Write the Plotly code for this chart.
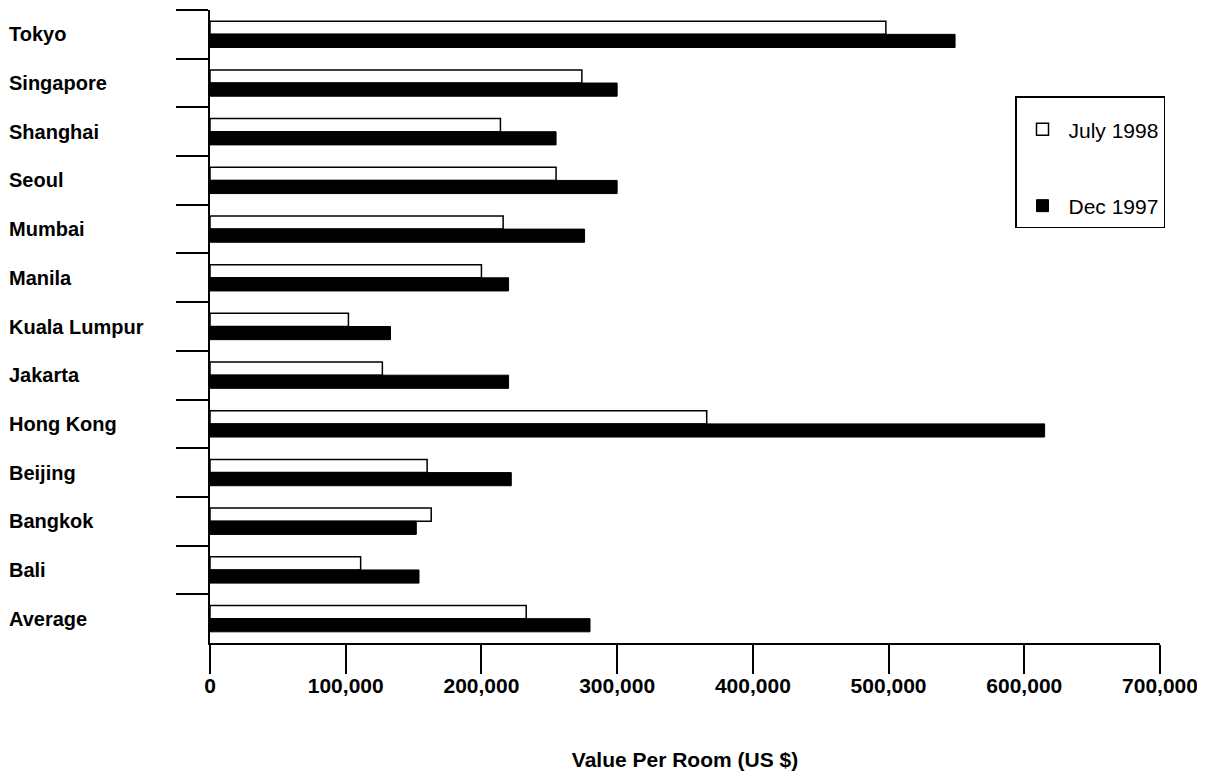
import plotly.graph_objects as go

cities = ["Tokyo", "Singapore", "Shanghai", "Seoul", "Mumbai", "Manila",
          "Kuala Lumpur", "Jakarta", "Hong Kong", "Beijing", "Bangkok",
          "Bali", "Average"]
july_1998 = [498000, 274000, 214000, 255000, 216000, 200000,
             102000, 127000, 366000, 160000, 163000, 111000, 233000]
dec_1997 = [549000, 300000, 255000, 300000, 276000, 220000,
            133000, 220000, 615000, 222000, 152000, 154000, 280000]
x_ticks = [0, 100000, 200000, 300000, 400000, 500000, 600000, 700000]
x_title = "Value Per Room (US $)"

BOLD = "Liberation Sans, Arial, Helvetica, sans-serif"
REG = "Liberation Sans, Arial, Helvetica, sans-serif"

fig = go.Figure()
fig.add_trace(go.Bar(
    y=cities, x=july_1998, orientation="h", name="July 1998",
    marker=dict(color="white", line=dict(color="black", width=1.5)),
    legendgroup="a",
))
fig.add_trace(go.Bar(
    y=cities, x=dec_1997, orientation="h", name="Dec 1997",
    marker=dict(color="black", line=dict(color="black", width=1)),
    legendgroup="b",
))

for c in cities:
    fig.add_annotation(
        x=-203 / 950, xref="paper", y=c, yref="y", text="<b>" + c + "</b>",
        showarrow=False, xanchor="left", yanchor="middle",
        font=dict(family=BOLD, size=20, color="black"),
    )

# page body adds an 8px offset, so the figure is sized/margined to compensate
fig.update_layout(
    width=1197, height=768,
    margin=dict(l=202, r=45, t=2, b=133),
    paper_bgcolor="white", plot_bgcolor="white",
    barmode="group", bargap=0.46, bargroupgap=0,
    showlegend=True,
    legend=dict(
        x=805 / 950, xanchor="left", y=(643 - 96) / 633, yanchor="top",
        bordercolor="black", borderwidth=1.5, bgcolor="white",
        font=dict(family=REG, size=21, color="black"),
        traceorder="grouped", tracegroupgap=46, itemwidth=42,
        title=dict(text=" ", font=dict(size=9)),
    ),
    xaxis=dict(
        range=[0, 700000], tickvals=x_ticks, tickformat=",d",
        showgrid=False, zeroline=False, showline=True, linecolor="black",
        linewidth=1.5, ticks="outside", ticklen=29, tickwidth=1.5,
        tickcolor="black", ticklabelstandoff=-6,
        tickfont=dict(family=BOLD, size=21, color="black", weight="bold"),
        title=dict(text="<b>" + x_title + "</b>", standoff=56,
                   font=dict(family=BOLD, size=21, color="black")),
    ),
    yaxis=dict(
        categoryorder="array", categoryarray=cities,
        range=[12.5, -0.5], showgrid=False, zeroline=False,
        showline=True, linecolor="black", linewidth=1.5,
        ticks="outside", tickson="boundaries", ticklen=32, tickwidth=1.5,
        tickcolor="black", showticklabels=False,
    ),
)

fig.write_html("out.html")
